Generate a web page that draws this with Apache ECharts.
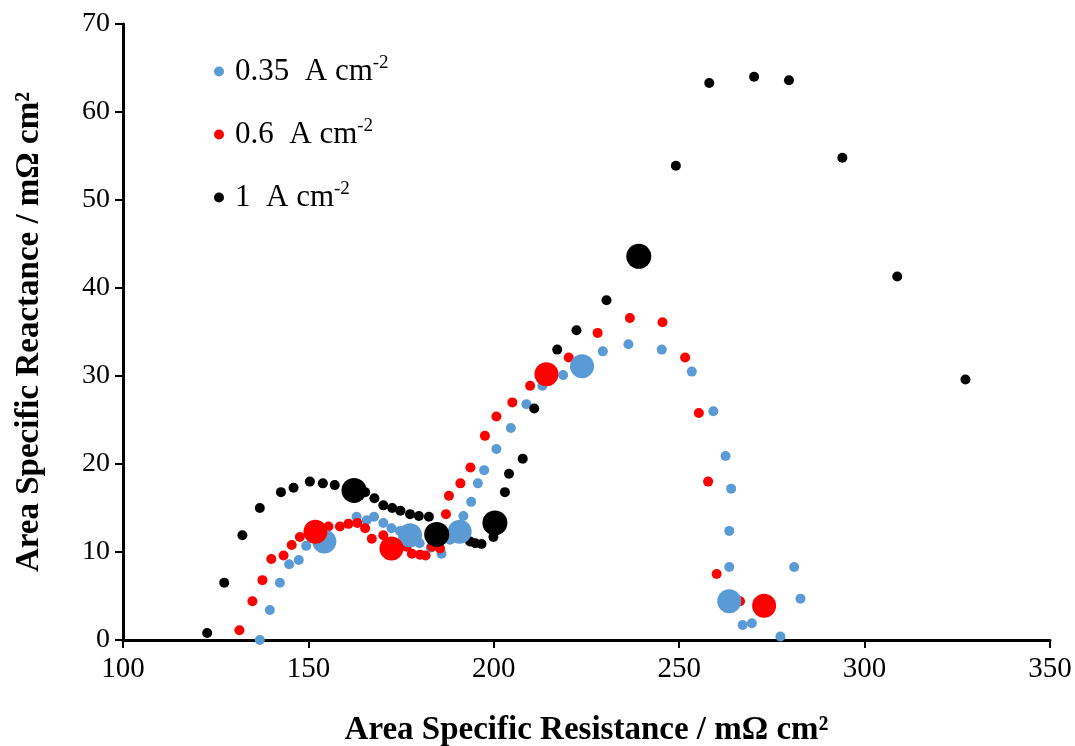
<!DOCTYPE html>
<html>
<head>
<meta charset="utf-8">
<script src="https://cdn.jsdelivr.net/npm/echarts@6/dist/echarts.min.js"></script>
<style>
  html, body { margin: 0; padding: 0; background: #fff; }
  #main { width: 1075px; height: 746px; }
</style>
</head>
<body>
<div id="main"></div>
<script>
// [resistance, reactance]
var blueSmall = [[136.9,0.0],[139.6,3.4],[142.3,6.5],[144.8,8.6],[147.4,9.1],[149.4,10.7],[163.0,14.0],[165.7,13.6],[167.7,14.0],[170.2,13.3],[172.4,12.7],[174.7,12.4],[180.0,11.0],[183.0,10.5],[185.9,9.8],[188.2,11.4],[191.8,14.1],[193.9,15.7],[195.7,17.8],[197.4,19.3],[200.7,21.7],[204.6,24.1],[208.8,26.8],[213.1,28.9],[218.7,30.1],[229.4,32.8],[236.3,33.6],[245.3,33.0],[253.4,30.5],[259.2,26.0],[262.5,20.9],[264.0,17.2],[263.5,12.4],[263.5,8.3],[267.1,1.7],[269.6,1.9],[277.3,0.4],[281.0,8.3],[282.7,4.7]];
var blueBig = [[154.3,11.2],[177.4,11.9],[190.8,12.3],[223.8,31.1],[263.5,4.4]];

var redSmall = [[131.4,1.1],[134.9,4.4],[137.6,6.8],[140.0,9.2],[143.3,9.6],[145.5,10.8],[147.7,11.7],[155.4,12.9],[158.5,12.9],[160.8,13.2],[163.2,13.3],[165.3,12.7],[167.1,11.5],[170.2,11.9],[176.5,10.6],[177.9,9.8],[180.1,9.7],[181.6,9.6],[183.3,10.6],[185.5,10.4],[187.1,14.3],[187.9,16.4],[191.0,17.8],[193.7,19.6],[197.6,23.2],[200.7,25.4],[205.0,27.0],[209.8,28.9],[220.2,32.1],[228.0,34.9],[236.7,36.6],[245.5,36.1],[251.6,32.1],[255.3,25.8],[257.8,18.0],[260.1,7.5],[266.4,4.4]];
var redBig = [[151.9,12.3],[172.4,10.4],[214.2,30.2],[272.9,3.9]];

var blackSmall = [[122.7,0.8],[127.3,6.5],[132.2,11.9],[136.9,15.0],[142.6,16.8],[146.0,17.3],[150.4,18.0],[153.9,17.8],[157.1,17.6],[165.3,16.8],[167.8,16.1],[170.2,15.3],[172.6,15.0],[174.8,14.7],[177.4,14.3],[179.8,14.1],[182.5,14.0],[193.6,11.2],[195.0,11.0],[196.7,10.9],[199.9,11.7],[203.0,16.8],[204.1,18.9],[207.8,20.6],[210.9,26.3],[217.1,33.0],[222.3,35.2],[230.4,38.6],[249.1,53.9],[258.1,63.3],[270.2,64.0],[279.6,63.6],[294.0,54.8],[308.8,41.3],[327.2,29.6]];
var blackBig = [[162.3,17.0],[184.6,12.0],[200.3,13.3],[239.1,43.6]];

var names = ['0.35 A cm-2', '0.6 A cm-2', '1 A cm-2'];
var colors = ['#5b9bd5', '#ff0000', '#000000'];

var font = 'Liberation Serif';
var myChart = echarts.init(document.getElementById('main'));

function pts(name, data, color, size) {
    return {
        name: name,
        type: 'scatter',
        data: data,
        symbol: 'circle',
        symbolSize: size,
        itemStyle: { color: color, opacity: 1 },
        emphasis: { disabled: true }
    };
}

var option = {
    animation: false,
    backgroundColor: '#fff',
    grid: { left: 123, right: 25, top: 24, bottom: 106, outerBoundsMode: 'none' },
    legend: {
        data: names,
        orient: 'vertical',
        left: 209,
        top: 49,
        itemGap: 30,
        itemWidth: 10,
        itemHeight: 10,
        icon: 'circle',
        formatter: function (n) {
            var base = n.replace(' cm-2', '').replace(' A', '  A');
            return '{a|' + base + ' cm}{s|-2}';
        },
        textStyle: {
            fontFamily: font,
            color: '#000',
            rich: {
                a: { fontFamily: font, fontSize: 31, lineHeight: 36, color: '#000', padding: [0, 0, 0, 6] },
                s: { fontFamily: font, fontSize: 19, color: '#000', padding: [0, 0, 16, 0] }
            }
        }
    },
    xAxis: {
        type: 'value',
        min: 100,
        max: 350,
        interval: 50,
        name: 'Area Specific Resistance / mΩ cm²',
        nameLocation: 'middle',
        nameGap: 74,
        nameTextStyle: { fontFamily: font, fontSize: 33, fontWeight: 'bold', color: '#000' },
        axisLine: { lineStyle: { color: '#000', width: 3 } },
        axisTick: { show: true, length: 8, lineStyle: { color: '#000', width: 2 } },
        axisLabel: { fontFamily: font, fontSize: 29, color: '#000', margin: 15 },
        splitLine: { show: false }
    },
    yAxis: {
        type: 'value',
        min: 0,
        max: 70,
        interval: 10,
        name: 'Area Specific Reactance / mΩ cm²',
        nameLocation: 'middle',
        nameRotate: 90,
        nameGap: 77,
        nameTextStyle: { fontFamily: font, fontSize: 33, fontWeight: 'bold', color: '#000' },
        axisLine: { show: true, lineStyle: { color: '#000', width: 3 } },
        axisTick: { show: true, length: 8, lineStyle: { color: '#000', width: 2 } },
        axisLabel: { fontFamily: font, fontSize: 28, color: '#000', margin: 13 },
        splitLine: { show: false }
    },
    series: [
        pts(names[0], blueSmall, colors[0], 10),
        pts(names[1], redSmall, colors[1], 10),
        pts(names[2], blackSmall, colors[2], 10),
        pts(names[0] + ' big', blueBig, colors[0], 24),
        pts(names[1] + ' big', redBig, colors[1], 24),
        pts(names[2] + ' big', blackBig, colors[2], 25)
    ]
};

option && myChart.setOption(option);
window.onresize = myChart.resize;
</script>
</body>
</html>
